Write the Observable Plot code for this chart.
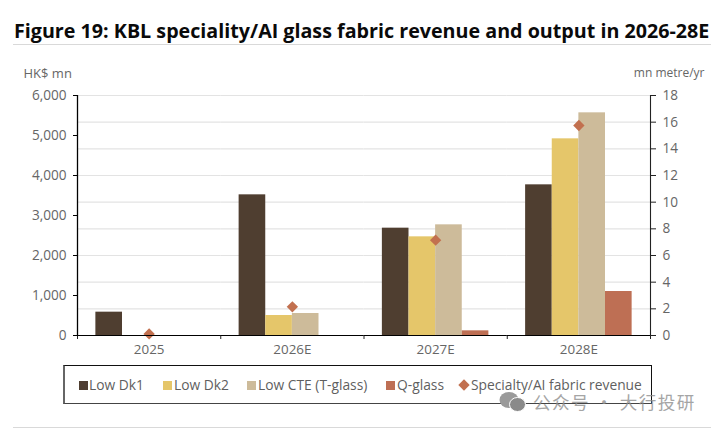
<!DOCTYPE html>
<html><head><meta charset="utf-8">
<script src="https://cdn.jsdelivr.net/npm/d3@7"></script>
<script src="https://cdn.jsdelivr.net/npm/@observablehq/plot@0.6"></script>
<style>
html,body{margin:0;padding:0;background:#fff;width:720px;height:431px;overflow:hidden;font-family:"Open Sans",sans-serif}
#title{position:absolute;left:13px;top:0;width:698px;height:44px;border-bottom:1px solid #d9d9d9;box-sizing:content-box;font-weight:700;font-size:19.7px;line-height:61px;color:#0a0a0a;white-space:nowrap;overflow:visible;text-indent:1px}
#chart{position:absolute;left:0;top:65px}
#chart svg{display:block;overflow:visible}
#legend{position:absolute;left:63px;top:365px;width:589px;height:39px;border:1px solid #111;border-left:2px solid #666;border-bottom:1.5px solid #444;box-sizing:border-box;font-size:13.8px;color:#5f5f5f}
#legend span.t{position:absolute;top:9px;line-height:20px;white-space:nowrap}
#legend i{position:absolute;top:15px;width:9px;height:9px}
#rule{position:absolute;left:13px;top:427px;width:698px;border-top:1px solid #d9d9d9}
#wm{position:absolute;left:533px;top:388px;font-family:"Noto Sans CJK SC",sans-serif;font-size:17.6px;letter-spacing:1.4px;color:#8f8f8f;opacity:.8;white-space:nowrap;line-height:28px}
#wmi{position:absolute;left:499px;top:391px}
</style></head><body>
<div id="title">Figure 19: KBL speciality/AI glass fabric revenue and output in 2026-28E</div>
<div id="chart"></div>
<div id="legend"></div>
<div id="rule"></div>
<svg id="wmi" width="28" height="22" viewBox="0 0 28 22"><ellipse cx="10" cy="9" rx="9.5" ry="8" fill="#9a9a9a"/><ellipse cx="18.5" cy="13.5" rx="8" ry="7" fill="#8a8a8a" stroke="#fff" stroke-width="1"/></svg>
<div id="wm">公众号 · 大行投研</div>
<script>
const years = ["2025","2026E","2027E","2028E"];
const series = ["Low Dk1","Low Dk2","Low CTE (T-glass)","Q-glass"];
const colors = ["#4f3e30","#e5c66a","#cdbb9a","#be6f54"];
const lowDk1 = [1.75,10.55,8.05,11.3];
const lowDk2 = [0,1.5,7.4,14.75];
const lowCte = [0,1.65,8.3,16.7];
const qGlass = [0,0,0.35,3.3];
const revenue = [40,717,2383,5250];
const revenueName = "Specialty/AI fabric revenue";
const diamondColor = "#c2704f";
const leftTicks = [0,1000,2000,3000,4000,5000,6000];
const rightTicks = [0,2,4,6,8,10,12,14,16,18];
const ratio = 6000/18;

const bars = [];
[lowDk1,lowDk2,lowCte,qGlass].forEach((vals,s)=>vals.forEach((v,i)=>{
  if(v>0) bars.push({year:years[i],series:series[s],output:v*ratio});
}));
const revData = years.map((y,i)=>({year:y,revenue:revenue[i]}));
const gc = "#e3e3e3", tc = "#666";
const half = (720-77-70)/8;

const plot = Plot.plot({
  width:720,height:298,
  marginTop:30,marginBottom:28,marginLeft:77,marginRight:70,
  style:{fontFamily:"'Open Sans',sans-serif",fontSize:"13px",color:tc,background:"transparent"},
  fx:{domain:years,padding:0,round:false,label:null,axis:null},
  x:{domain:series,paddingInner:0,paddingOuter:0.69,round:false,axis:null},
  y:{domain:[0,6000],label:null,axis:null},
  color:{domain:series,range:colors},
  marks:[
    Plot.ruleY(rightTicks.map(d=>d*ratio).filter(d=>d>0),{stroke:gc,strokeWidth:1.2}),
    Plot.barY(bars,{fx:"year",x:"series",y:"output",fill:"series"}),
    Plot.dot(revData,{fx:"year",y:"revenue",symbol:"diamond2",r:5.1,fill:diamondColor,stroke:null}),
    Plot.axisFx({domain:years,anchor:"bottom",tickSize:0,tickPadding:9,label:null,fontSize:13.4,fill:tc}),
    Plot.axisY({anchor:"left",ticks:leftTicks,tickFormat:d3.format(","),tickSize:4,tickPadding:7,label:null,fontSize:13.6,color:tc,stroke:"#000"}),
    Plot.axisY({anchor:"left",ticks:[],tickSize:0,label:"HK$ mn",labelAnchor:"top",labelArrow:"none",labelOffset:54,fontSize:13,color:tc}),
    Plot.axisY({anchor:"right",ticks:rightTicks.map(d=>d*ratio),tickFormat:d=>String(Math.round(d/ratio)),tickSize:5,tickPadding:7,label:null,fontSize:13.6,color:tc,stroke:"#222"}),
    Plot.axisY({anchor:"right",ticks:[],tickSize:0,label:"mn metre/yr",labelAnchor:"top",labelArrow:"none",labelOffset:54,fontSize:12,color:tc}),
    Plot.ruleX(years,{fx:d=>d,x:null,y1:0,y2:-100,dx:half,stroke:"#222"}),
    Plot.ruleX([years[0]],{fx:d=>d,x:null,y1:0,y2:-100,dx:-half,stroke:"#222"}),
    Plot.ruleY([0],{stroke:"#000",strokeWidth:1.2}),
    Plot.ruleX([years[0]],{fx:d=>d,x:null,y1:0,y2:6000,dx:-half,stroke:"#000",strokeWidth:1.3}),
    Plot.ruleX([years[3]],{fx:d=>d,x:null,y1:0,y2:6000,dx:half,stroke:"#222",strokeWidth:1.1})
  ]
});
document.getElementById("chart").append(plot);

const lg = document.getElementById("legend");
const swX = [14,98,182,321], txX=[24,109,193,332];
series.forEach((s,i)=>{
  const sw=document.createElement("i");sw.style.left=swX[i]+"px";sw.style.background=colors[i];lg.append(sw);
  const t=document.createElement("span");t.className="t";t.style.left=txX[i]+"px";t.textContent=s;lg.append(t);
});
const dm=document.createElement("i");dm.style.cssText=`left:395px;top:15px;width:8px;height:8px;background:${diamondColor};transform:rotate(45deg)`;lg.append(dm);
const dt=document.createElement("span");dt.className="t";dt.style.left="406px";dt.textContent=revenueName;lg.append(dt);
</script>
</body></html>
